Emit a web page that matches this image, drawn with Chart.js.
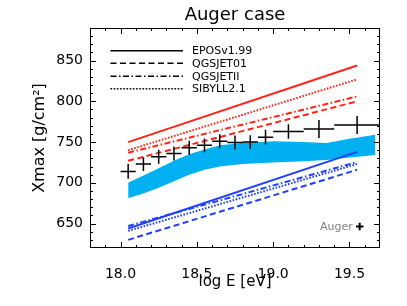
<!DOCTYPE html>
<html>
<head>
<meta charset="utf-8">
<script src="https://cdn.jsdelivr.net/npm/chart.js@4"></script>
<style>
  html, body { margin: 0; padding: 0; background: #fff; }
</style>
</head>
<body>
<canvas id="chart" width="407" height="306"></canvas>
<script>
// ===== DATOS =====
const lineE = [18.05, 19.55];
// proton (rojo)
const redEpos = [750, 844];
const redQgs01 = [727, 800];
const redQgsII = [737, 806];
const redSibyll = [740, 827];
// iron (azul)
const blueEpos = [644, 738];
const blueQgs01 = [630, 716];
const blueQgsII = [647, 725.5];
const blueSibyll = [641, 723];

// banda cian
const bandE = [18.05, 18.15, 18.25, 18.35, 18.45, 18.55, 18.65, 18.8, 19.0, 19.2, 19.35, 19.5, 19.67];
const bandHigh = [700, 709, 718, 727, 735, 741, 746, 749, 751, 750, 749, 754, 759];
const bandLow = [681, 687, 694, 702, 710, 716, 720, 723, 725, 726.5, 728, 731, 734];

// puntos Auger
const augerE = [18.05, 18.15, 18.25, 18.35, 18.45, 18.55, 18.65, 18.75, 18.85, 18.95, 19.1, 19.3, 19.55];
const augerXmax = [714, 723, 732, 736, 743, 746, 751, 749.5, 750, 756, 763, 766, 771];
const augerErrE = [0.05, 0.05, 0.05, 0.05, 0.05, 0.05, 0.05, 0.05, 0.05, 0.05, 0.1, 0.1, 0.15];
const augerErrX = [9, 8.5, 8.5, 8.5, 8.5, 8.5, 8.5, 8.5, 8.5, 9, 9, 11, 11];

const xTicks = [18.0, 18.5, 19.0, 19.5];
const yTicks = [650, 700, 750, 800, 850];
const models = ['EPOSv1.99', 'QGSJET01', 'QGSJETII', 'SIBYLL2.1'];

const RED = '#ff2418';
const BLUE = '#2040ff';
const CYAN = 'rgb(0,176,240)';
const DASH = { solid: [], dashed: [6, 3.5], dashdot: [6, 2.5, 1.5, 2.5], dotted: [1.6, 1.6] };
const styles = ['solid', 'dashed', 'dashdot', 'dotted'];

Chart.defaults.font.family = 'DejaVu Sans';
Chart.defaults.color = '#000';

function modelLine(vals, color, style) {
    return {
        data: lineE.map((e, i) => ({ x: e, y: vals[i] })),
        showLine: true, borderColor: color, borderWidth: 2, borderDash: DASH[style],
        pointRadius: 0, order: 2
    };
}

// cruces de error: segmentos separados por huecos (null)
const crossData = [];
augerE.forEach((e, i) => {
    const v = augerXmax[i];
    crossData.push({ x: e - augerErrE[i], y: v }, { x: e + augerErrE[i], y: v }, { x: e, y: null });
    crossData.push({ x: e, y: v - augerErrX[i] }, { x: e, y: v + augerErrX[i] }, { x: e, y: null });
});

const datasets = [
    { data: bandE.map((e, i) => ({ x: e, y: bandHigh[i] })), showLine: true, borderWidth: 0, borderColor: CYAN,
      backgroundColor: CYAN, fill: '+1', pointRadius: 0, order: 3 },
    { data: bandE.map((e, i) => ({ x: e, y: bandLow[i] })), showLine: true, borderWidth: 0, borderColor: CYAN,
      pointRadius: 0, order: 3, fill: false },
    modelLine(redEpos, RED, 'solid'),
    modelLine(redQgs01, RED, 'dashed'),
    modelLine(redQgsII, RED, 'dashdot'),
    modelLine(redSibyll, RED, 'dotted'),
    modelLine(blueEpos, BLUE, 'solid'),
    modelLine(blueQgs01, BLUE, 'dashed'),
    modelLine(blueQgsII, BLUE, 'dashdot'),
    modelLine(blueSibyll, BLUE, 'dotted'),
    { data: crossData, showLine: true, spanGaps: false, borderColor: '#000', borderWidth: 1.5,
      pointRadius: 0, order: 1 }
];

// ===== MARCO, TICKS HACIA DENTRO Y LEYENDA =====
const framePlugin = {
    id: 'frame',
    afterDatasetsDraw(chart) {
        const { ctx, chartArea: a, scales: { x, y } } = chart;
        ctx.save();
        ctx.strokeStyle = '#000';
        ctx.lineWidth = 1;
        ctx.setLineDash([]);
        ctx.strokeRect(a.left + 0.5, a.top + 0.5, a.right - a.left - 1, a.bottom - a.top - 1);
        ctx.beginPath();
        for (let i = 1; i < 19; i++) {
            const v = 17.8 + i * 0.1;
            const px = Math.round(x.getPixelForValue(v)) + 0.5;
            const len = Math.abs(v * 2 - Math.round(v * 2)) < 1e-6 ? 6 : 3;
            ctx.moveTo(px, a.bottom); ctx.lineTo(px, a.bottom - len);
            ctx.moveTo(px, a.top); ctx.lineTo(px, a.top + len);
        }
        for (let v = 630; v < 890; v += 10) {
            const py = Math.round(y.getPixelForValue(v)) + 0.5;
            const len = v % 50 === 0 ? 6 : 3;
            ctx.moveTo(a.left, py); ctx.lineTo(a.left + len, py);
            ctx.moveTo(a.right, py); ctx.lineTo(a.right - len, py);
        }
        ctx.stroke();

        // leyenda de modelos
        const ys = [50.8, 63.3, 76.2, 88.8];
        ctx.font = '11px "DejaVu Sans"';
        ctx.textBaseline = 'middle';
        ctx.fillStyle = '#000';
        models.forEach((m, i) => {
            ctx.beginPath();
            ctx.lineWidth = 1.5;
            ctx.setLineDash(DASH[styles[i]]);
            ctx.moveTo(110.5, ys[i]); ctx.lineTo(183, ys[i]);
            ctx.stroke();
            ctx.fillText(m, 192, ys[i] + 0.5);
        });

        // etiqueta Auger
        ctx.setLineDash([]);
        ctx.fillStyle = '#808080';
        ctx.textBaseline = 'alphabetic';
        ctx.fillText('Auger', 320, 230);
        ctx.strokeStyle = '#000';
        ctx.lineWidth = 2;
        ctx.beginPath();
        ctx.moveTo(356, 226.5); ctx.lineTo(363.5, 226.5);
        ctx.moveTo(359.7, 222.8); ctx.lineTo(359.7, 230.2);
        ctx.stroke();
        ctx.restore();
    }
};

new Chart(document.getElementById('chart').getContext('2d'), {
    type: 'scatter',
    data: { datasets },
    options: {
        responsive: false,
        animation: false,
        devicePixelRatio: 1,
        layout: { padding: { left: 0, right: 27, top: 0, bottom: 0 } },
        plugins: {
            legend: { display: false },
            tooltip: { enabled: false },
            title: {
                display: true, text: 'Auger case', fullSize: false, color: '#000',
                font: { size: 18, weight: 'normal' }, padding: { top: 5, bottom: 1.4 }
            }
        },
        scales: {
            x: {
                type: 'linear', min: 17.8, max: 19.7,
                grid: { display: false, drawTicks: false, tickLength: 0 }, border: { display: false },
                afterFit: s => { s.height = 58; },
                afterBuildTicks: s => { s.ticks = xTicks.map(v => ({ value: v })); },
                ticks: { font: { size: 14 }, color: '#000', padding: 18, maxRotation: 0,
                         callback: v => v.toFixed(1) },
                title: { display: true, text: 'log E [eV]', color: '#000', font: { size: 15 },
                         padding: { top: 0, bottom: 15 } }
            },
            y: {
                type: 'linear', min: 620, max: 890,
                grid: { display: false, drawTicks: false, tickLength: 0 }, border: { display: false },
                afterFit: s => { s.width = 90; },
                afterBuildTicks: s => { s.ticks = yTicks.map(v => ({ value: v })); },
                ticks: { font: { size: 14 }, color: '#000', padding: 7 },
                title: { display: true, text: 'Xmax [g/cm²]', color: '#000', font: { size: 16 },
                         padding: { top: 30, bottom: 0 } }
            }
        }
    },
    plugins: [framePlugin]
});
</script>
</body>
</html>
